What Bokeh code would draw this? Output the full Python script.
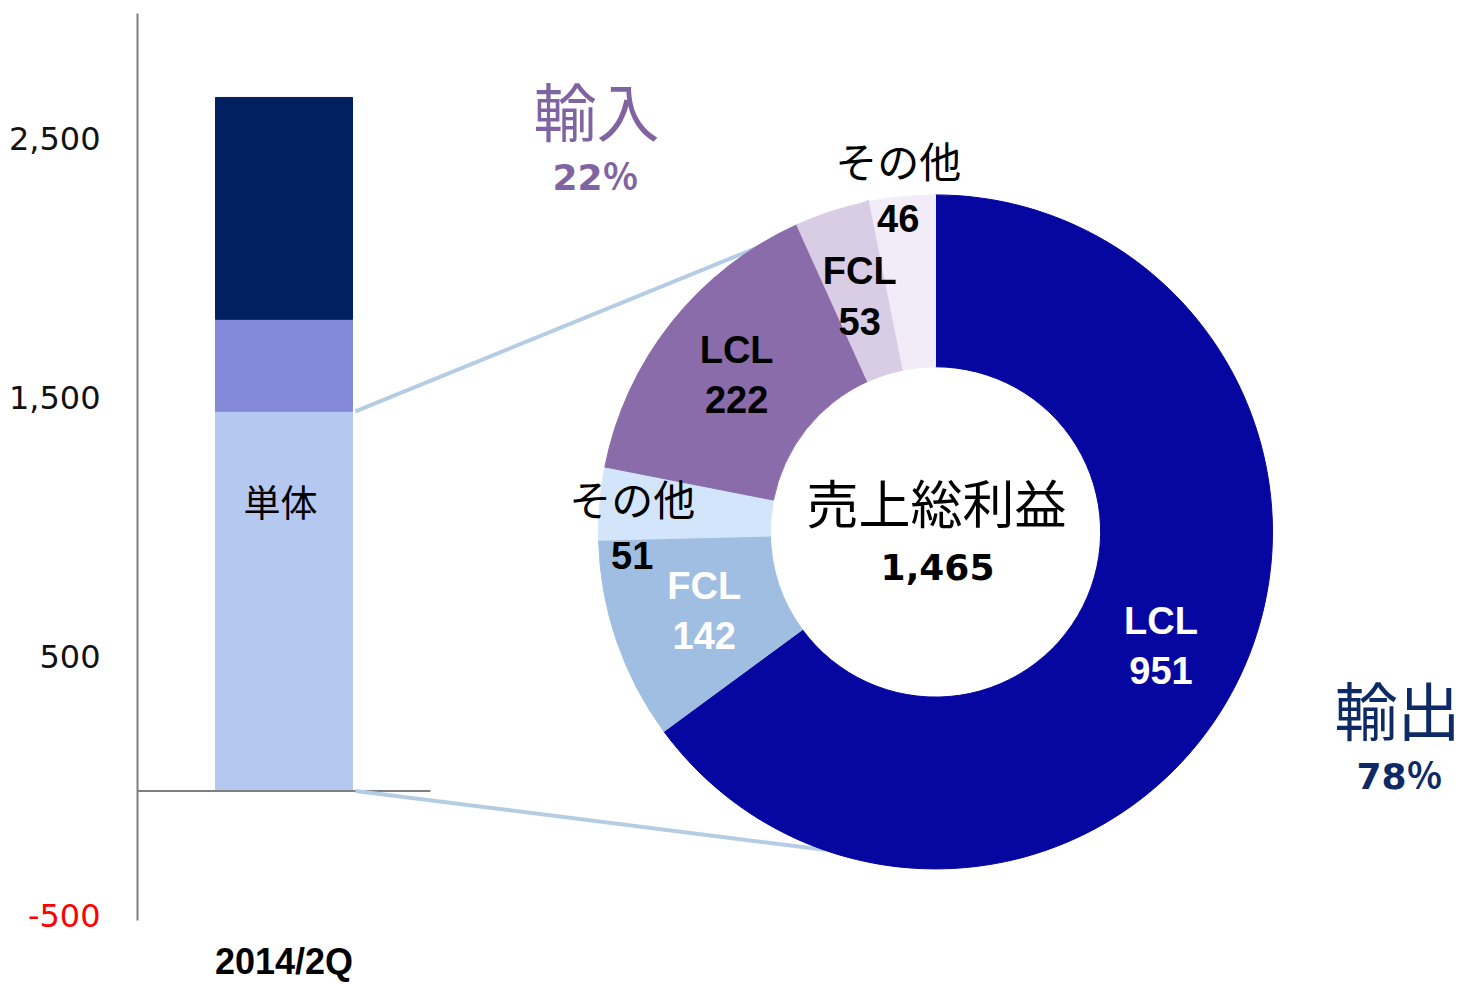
import math
from bokeh.plotting import figure
from bokeh.models import Range1d, FixedTicker, ColumnDataSource, NumeralTickFormatter, LinearAxis
from bokeh.core.properties import value
from bokeh.embed import file_html
from bokeh.resources import INLINE

# ---------------- data ----------------
period_label = "2014/2Q"
bar_names = ["単体", "上乗せ1", "上乗せ2"]
bar_values = [1465, 355, 856]
y_tick_values = [500, 1500, 2500]
neg_tick_values = [-500]

pie_groups = ["輸出", "輸出", "輸出", "輸入", "輸入", "輸入"]
pie_types = ["LCL", "FCL", "その他", "LCL", "FCL", "その他"]
pie_values = [951, 142, 51, 222, 53, 46]
center_title = "売上総利益"

# ---------------- styles ----------------
bar_colors = ["#B4C8F0", "#8488D8", "#002060"]
pie_colors = ["#0606A0", "#A0BEE2", "#D3E5FA", "#8A6CAA", "#D9CCE5", "#F2ECF8"]
label_colors = ["white", "white", "black", "black", "black", "black"]
label_radius = [0.75, 0.725, 0.90, 0.753, 0.735, 1.018]
label_nudge_cw_deg = [0, 0, -4.2, 0, 0, -0.6]
group_colors = {"輸入": "#8064A2", "輸出": "#0E2A66"}
connector_color = "#B4CCE4"

# ---------------- layout constants ----------------
W, H = 1465, 984
BL, BR, BT, BB = 137, 0, 13, 63
FW, FH = W - BL - BR, H - BT - BB
PX_PER_X = 293.0
X0, X1 = 0.0, FW / PX_PER_X
Y0, Y1 = -500, 3000
PX_PER_Y = FH / (Y1 - Y0)
TICK_SHIFT = 5 / PX_PER_Y            # tick labels sit ~5px above their value
BAR_X = 0.5
BAR_W = 137 / PX_PER_X
CX, CY, R = 935, 532, 337            # donut centre / outer radius (figure px)
INNER = 0.49
LINE_GAP = 25 / R                    # half distance between the two label lines
LINE_GAP_CJK = 27 / R
CJK_DY = 4.5 / R                     # optical lift for CJK text
CJK = "Noto Sans CJK JP"
LAT_B = "Liberation Sans"
MEI = "DejaVu Sans, Noto Sans CJK JP"
TICK_FONT_PX = 32
NEG_LABEL_W = 76                     # approx. width of the "-500" label in px


def fig_px(x, v):
    return BL + (x - X0) * PX_PER_X, BT + (Y1 - v) * PX_PER_Y


def to_pie(px, py):
    return (px - CX) / R, (CY - py) / R


p = figure(width=W, height=H, x_range=Range1d(X0, X1), y_range=Range1d(Y0, Y1),
           output_backend="svg", toolbar_location=None,
           min_border_left=BL, min_border_right=BR, min_border_top=BT, min_border_bottom=BB)
p.extra_x_ranges = {"pie": Range1d((BL - CX) / R, (BL + FW - CX) / R)}
p.extra_y_ranges = {"pie": Range1d((CY - BT - FH) / R, (CY - BT) / R),
                    "ticks": Range1d(Y0 - TICK_SHIFT, Y1 - TICK_SHIFT)}
p.outline_line_color = None
p.grid.visible = False
p.background_fill_color = "white"
p.border_fill_color = "white"


def style_axis(ax):
    ax.major_tick_in = 0
    ax.major_tick_out = 0
    ax.minor_tick_in = 0
    ax.minor_tick_out = 0
    ax.major_tick_line_color = None
    ax.minor_tick_line_color = None


# inner y axis: the axis line and the red negative tick
yin = p.yaxis[0]
style_axis(yin)
yin.y_range_name = "ticks"
yin.ticker = FixedTicker(ticks=neg_tick_values)
yin.formatter = NumeralTickFormatter(format="0,0")
yin.axis_line_color = "#808080"
yin.axis_line_width = 2
yin.major_label_text_font = "DejaVu Sans"
yin.major_label_text_font_size = f"{TICK_FONT_PX}px"
yin.major_label_text_color = "#FF0000"
yin.major_label_standoff = 37

# outer y axis: the black positive ticks, pulled right to share the label column
yout = LinearAxis(ticker=FixedTicker(ticks=y_tick_values), y_range_name="ticks",
                  formatter=NumeralTickFormatter(format="0,0"))
style_axis(yout)
yout.axis_line_color = None
yout.major_label_text_font = "DejaVu Sans"
yout.major_label_text_font_size = f"{TICK_FONT_PX}px"
yout.major_label_text_color = "#111111"
yout.major_label_standoff = -NEG_LABEL_W
p.add_layout(yout, "left")

xax = p.xaxis[0]
style_axis(xax)
xax.axis_line_color = None
xax.ticker = FixedTicker(ticks=[BAR_X])
xax.major_label_overrides = {BAR_X: period_label}
xax.major_label_text_font = LAT_B
xax.major_label_text_font_style = "bold"
xax.major_label_text_font_size = "36px"
xax.major_label_text_color = "black"
xax.major_label_standoff = 20

# ---------------- stacked bar ----------------
bottoms, tops, acc = [], [], 0
for v in bar_values:
    bottoms.append(acc)
    acc += v
    tops.append(acc)
bar_src = ColumnDataSource(dict(x=[BAR_X] * len(bar_values), bottom=bottoms, top=tops,
                                color=bar_colors, name=bar_names))
p.vbar(x="x", bottom="bottom", top="top", width=BAR_W, fill_color="color",
       line_color="color", line_width=1, source=bar_src)
p.segment(x0=[X0], y0=[0], x1=[1.0], y1=[0], line_color="#808080", line_width=2)

p.text(x=[BAR_X - 0.012], y=[bar_values[0] * 0.765], text=[bar_names[0]],
       text_font=value(CJK), text_font_size="37px", text_color="black",
       text_align="center", text_baseline="middle")

# ---------------- donut ----------------
total = sum(pie_values)
cum = [0]
for v in pie_values:
    cum.append(cum[-1] + v)
starts = [math.pi / 2 - 2 * math.pi * cum[i] / total for i in range(len(pie_values))]
ends = [math.pi / 2 - 2 * math.pi * cum[i + 1] / total for i in range(len(pie_values))]

# connector lines (drawn under the donut)
sx1, sy1 = to_pie(*fig_px(BAR_X + BAR_W / 2 + 0.01, bar_values[0]))
sx2, sy2 = to_pie(*fig_px(BAR_X + BAR_W / 2 + 0.01, 0))
a1 = math.pi / 2 - 2 * math.pi * cum[5] / total
a2 = math.radians(-109.2)
p.segment(x0=[sx1, sx2], y0=[sy1, sy2], x1=[math.cos(a1), math.cos(a2)],
          y1=[math.sin(a1), math.sin(a2)], line_color=connector_color, line_width=4,
          x_range_name="pie", y_range_name="pie")

pie_src = ColumnDataSource(dict(start=starts, end=ends, color=pie_colors,
                                group=pie_groups, kind=pie_types, val=pie_values))
p.annular_wedge(x=0, y=0, inner_radius=INNER, outer_radius=1.0, start_angle="start",
                end_angle="end", direction="clock", fill_color="color", line_color="color",
                line_width=1, source=pie_src, x_range_name="pie", y_range_name="pie")


def put(x, y, txt, font, size, color, style="normal"):
    p.text(x=[x], y=[y], text=[txt], text_font=value(font), text_font_size=size,
           text_color=color, text_font_style=style, text_align="center",
           text_baseline="middle", x_range_name="pie", y_range_name="pie")


for i, v in enumerate(pie_values):
    cw_mid = 360.0 * (cum[i] + v / 2) / total + label_nudge_cw_deg[i]
    th = math.pi / 2 - math.radians(cw_mid)
    lx, ly = label_radius[i] * math.cos(th), label_radius[i] * math.sin(th)
    if pie_types[i] in ("LCL", "FCL"):
        put(lx, ly + LINE_GAP, pie_types[i], LAT_B, "38px", label_colors[i], "bold")
        put(lx, ly - LINE_GAP, f"{v:,}", LAT_B, "38px", label_colors[i], "bold")
    else:
        put(lx, ly + LINE_GAP_CJK + CJK_DY, pie_types[i], CJK, "42px", label_colors[i])
        put(lx, ly - LINE_GAP_CJK, f"{v:,}", LAT_B, "38px", label_colors[i], "bold")

put(0.003, 0.077 + CJK_DY, center_title, CJK, "52px", "black")
put(0.006, -0.104, f"{total:,}", "DejaVu Sans", "36px", "black", "bold")

imp = sum(v for g, v in zip(pie_groups, pie_values) if g == "輸入")
exp = sum(v for g, v in zip(pie_groups, pie_values) if g == "輸出")
put(-1.006, 1.245 + CJK_DY, "輸入", CJK, "63px", group_colors["輸入"])
put(-1.009, 1.052, f"{round(100 * imp / total)}％", MEI, "36px", group_colors["輸入"], "bold")
put(1.371, -0.536 + CJK_DY, "輸出", CJK, "63px", group_colors["輸出"])
put(1.377, -0.728, f"{round(100 * exp / total)}％", MEI, "36px", group_colors["輸出"], "bold")

open("out.html", "w").write(file_html(p, INLINE))
